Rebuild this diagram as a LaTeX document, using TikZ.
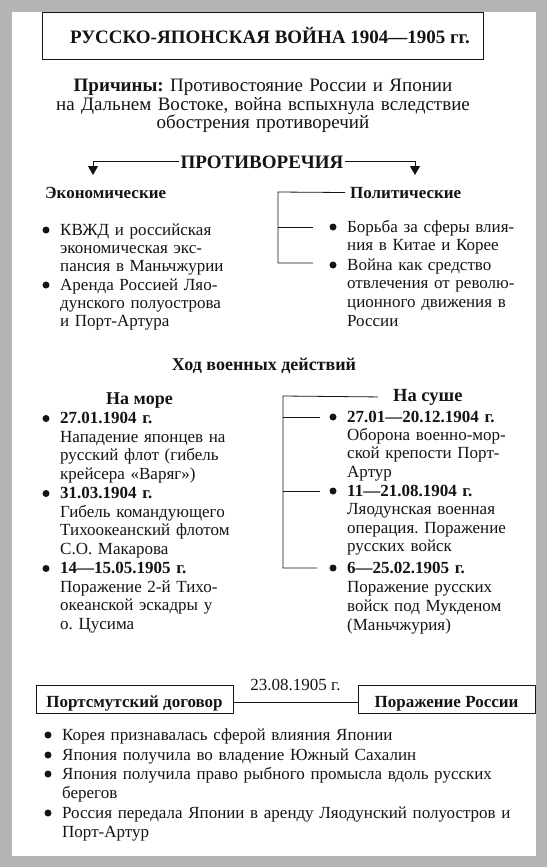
\documentclass[tikz,border=0pt]{standalone}
\usepackage{fontspec}
\setmainfont{Liberation Serif}
\usepackage{xcolor}
\usepackage{tikz}
\usetikzlibrary{arrows.meta, calc, positioning}
\definecolor{PageGray}{RGB}{180, 180, 180}
\definecolor{InkBlack}{RGB}{20, 20, 20}
\newcommand{\bodysize}{\fontsize{17}{18.7}\selectfont}
\frenchspacing

\begin{document}
\begin{tikzpicture}[
        x = 1pt, y = -1pt,
        txt/.style = {anchor=base west, inner sep=0pt, text width=#1, align=left, font=\bodysize, text=InkBlack},
        txt/.default = 190pt,
        head/.style = {anchor=base, inner sep=0pt, font=\bodysize\bfseries, text=InkBlack},
        frame/.style = {draw=InkBlack, line width=0.9pt, font=\bodysize\bfseries, text=InkBlack},
        line/.style = {draw=InkBlack, line width=0.8pt},
        arrow/.style = {line, -{Triangle[width=10pt, length=9pt]}}
    ]
        % Sheet
        \useasboundingbox (0,0) rectangle (547,867);
        \fill [PageGray] (0,0) rectangle (547,867);
        \fill [white] (12,12) rectangle (536,856);

        % Title and causes
        \node (title_box) [frame, font=\fontsize{19}{20}\selectfont\bfseries, minimum width=441pt, minimum height=47pt] at (262.5,35.5) {\hspace*{15pt}РУССКО-ЯПОНСКАЯ ВОЙНА 1904—1905 гг.};
        \node (causes) [anchor=base, inner sep=0pt, text width=500pt, align=center, font=\fontsize{19}{18}\selectfont, text=InkBlack] at (263,92) {\textbf{Причины:} Противостояние России и Японии\\ на Дальнем Востоке, война вспыхнула вследствие\\ обострения противоречий};

        % Contradictions
        \node (contra_head) [head, inner xsep=1pt, font=\fontsize{19}{20}\selectfont\bfseries] at (262,168) {ПРОТИВОРЕЧИЯ};
        \coordinate (econ_tip) at (93,175);
        \coordinate (polit_tip) at (415,175);
        \draw [arrow] (contra_head.west) -| (econ_tip);
        \draw [arrow] (contra_head.east) -| (polit_tip);

        \node (econ_head) [head, anchor=base west] at (45,198) {Экономические};
        \node (polit_head) [head, anchor=base west, inner xsep=5pt] at (345,198) {Политические};

        \node (econ_a) [txt, text width=200pt, font=\fontsize{17}{18.4}\selectfont] at (60,235) {КВЖД и российская\\ экономическая экс-\\ пансия в Маньчжурии};
        \node (econ_b) [txt, text width=200pt, font=\fontsize{17}{18.4}\selectfont] at (60,290) {Аренда Россией Ляо-\\ дунского полуострова\\ и Порт-Артура};
        \node (polit_a) [txt] at (347,232) {Борьба за сферы влия-\\ ния в Китае и Корее};
        \node (polit_b) [txt] at (347,270) {Война как средство\\ отвлечения от револю-\\ ционного движения в\\ России};

        \coordinate (polit_spine) at (278,192);
        \coordinate (polit_a_tick) at ($(polit_a.base west)+(-34,-5)$);
        \coordinate (polit_b_tick) at ($(polit_b.base west)+(-34,-7)$);
        \draw [line] (polit_head.west) -- (polit_spine) |- (polit_b_tick);
        \draw [line] (polit_spine |- polit_a_tick) -- (polit_a_tick);

        % Course of the war
        \node (war_head) [head, font=\fontsize{18}{19}\selectfont\bfseries] at (264,370) {Ход военных действий};
        \node (sea_head) [head, font=\fontsize{18}{19}\selectfont\bfseries] at (139.5,404) {На море};
        \node (land_head) [head, anchor=base west, inner xsep=15pt, font=\fontsize{18.5}{19}\selectfont\bfseries] at (378,401) {На суше};

        \node (sea_a) [txt, text width=200pt] at (60,423.5) {\textbf{27.01.1904 г.}\\ Нападение японцев на\\ русский флот (гибель\\ крейсера «Варяг»)};
        \node (sea_b) [txt, text width=200pt] at (60,498.5) {\textbf{31.03.1904 г.}\\ Гибель командующего\\ Тихоокеанский флотом\\ С.О. Макарова};
        \node (sea_c) [txt, text width=200pt] at (60,573.5) {\textbf{14—15.05.1905 г.}\\ Поражение 2-й Тихо-\\ океанской эскадры у\\ о. Цусима};

        \node (land_a) [txt, font=\fontsize{17}{18.4}\selectfont] at (347,422) {\textbf{27.01—20.12.1904 г.}\\ Оборона военно-мор-\\ ской крепости Порт-\\ Артур};
        \node (land_b) [txt, font=\fontsize{17}{18.6}\selectfont] at (347,496) {\textbf{11—21.08.1904 г.}\\ Ляодунская военная\\ операция. Поражение\\ русских войск};
        \node (land_c) [txt, font=\fontsize{17}{19}\selectfont] at (347,573) {\textbf{6—25.02.1905 г.}\\ Поражение русских\\ войск под Мукденом\\ (Маньчжурия)};

        \coordinate (war_spine) at (283,396);
        \coordinate (land_a_tick) at ($(land_a.base west)+(-27,-5)$);
        \coordinate (land_b_tick) at ($(land_b.base west)+(-27,-5)$);
        \coordinate (land_c_tick) at ($(land_c.base west)+(-30,-5)$);
        \draw [line] (land_head.west) -- (war_spine) |- (land_c_tick);
        \foreach \n in {land_a, land_b}
            \draw [line] (war_spine |- \n_tick) -- (\n_tick);

        % Peace of Portsmouth
        \node (treaty_box) [frame, minimum width=197pt, text height=20pt, text depth=4pt, inner ysep=2pt] at (134.5,699) {Портсмутский договор};
        \node (defeat_box) [frame, minimum width=177pt, text height=20pt, text depth=4pt, inner ysep=2pt] at (446.5,699) {Поражение России};
        \draw [line] ([yshift=-3pt]treaty_box.east) -- node [midway, above=8pt, inner sep=3pt, font=\bodysize, text=InkBlack] (treaty_date) {23.08.1905 г.} ([yshift=-3pt]defeat_box.west);

        \node (terms_a) [txt, text width=470pt] at (62,740) {Корея признавалась сферой влияния Японии};
        \node (terms_b) [txt, text width=470pt] at (62,760) {Япония получила во владение Южный Сахалин};
        \node (terms_c) [txt, text width=470pt, font=\fontsize{17}{19.5}\selectfont] at (62,779) {Япония получила право рыбного промысла вдоль русских\\ берегов};
        \node (terms_d) [txt, text width=470pt, font=\fontsize{17}{19.5}\selectfont] at (62,818) {Россия передала Японии в аренду Ляодунский полуостров и\\ Порт-Артур};

        % Bullets
        \foreach \n in {econ_a, econ_b, polit_a, polit_b, sea_a, sea_b, sea_c, land_a, land_b, land_c, terms_a, terms_b, terms_c, terms_d}
            \fill [InkBlack] ($(\n.base west)+(-14,-5)$) circle (3.5pt);
    \end{tikzpicture}
\end{document}
